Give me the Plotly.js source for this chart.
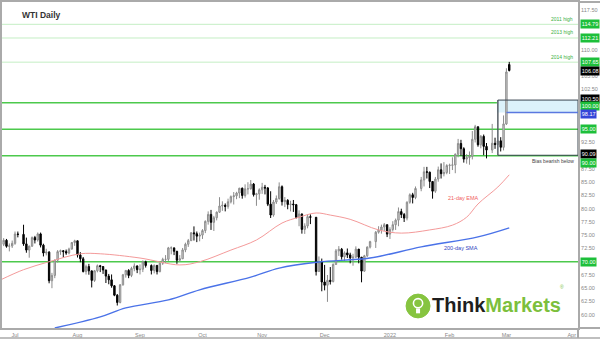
<!DOCTYPE html>
<html><head><meta charset="utf-8">
<script src="https://cdn.plot.ly/plotly-3.0.1.min.js"></script>
<style>html,body{margin:0;padding:0;background:#fff}#chart{width:600px;height:339px}</style>
</head><body><div id="chart"></div>
<script>
// ---- data ----
const dates = [
"2021-06-24","2021-06-25","2021-06-28","2021-06-29","2021-06-30",
"2021-07-01","2021-07-02","2021-07-06","2021-07-07","2021-07-08","2021-07-09","2021-07-12","2021-07-13","2021-07-14","2021-07-15","2021-07-16","2021-07-19","2021-07-20","2021-07-21","2021-07-22","2021-07-23","2021-07-26","2021-07-27","2021-07-28","2021-07-29","2021-07-30",
"2021-08-02","2021-08-03","2021-08-04","2021-08-05","2021-08-06","2021-08-09","2021-08-10","2021-08-11","2021-08-12","2021-08-13","2021-08-16","2021-08-17","2021-08-18","2021-08-19","2021-08-20","2021-08-23","2021-08-24","2021-08-25","2021-08-26","2021-08-27","2021-08-30","2021-08-31",
"2021-09-01","2021-09-02","2021-09-03","2021-09-07","2021-09-08","2021-09-09","2021-09-10","2021-09-13","2021-09-14","2021-09-15","2021-09-16","2021-09-17","2021-09-20","2021-09-21","2021-09-22","2021-09-23","2021-09-24","2021-09-27","2021-09-28","2021-09-29","2021-09-30",
"2021-10-01","2021-10-04","2021-10-05","2021-10-06","2021-10-07","2021-10-08","2021-10-11","2021-10-12","2021-10-13","2021-10-14","2021-10-15","2021-10-18","2021-10-19","2021-10-20","2021-10-21","2021-10-22","2021-10-25","2021-10-26","2021-10-27","2021-10-28","2021-10-29",
"2021-11-01","2021-11-02","2021-11-03","2021-11-04","2021-11-05","2021-11-08","2021-11-09","2021-11-10","2021-11-11","2021-11-12","2021-11-15","2021-11-16","2021-11-17","2021-11-18","2021-11-19","2021-11-22","2021-11-23","2021-11-24","2021-11-26","2021-11-29","2021-11-30",
"2021-12-01","2021-12-02","2021-12-03","2021-12-06","2021-12-07","2021-12-08","2021-12-09","2021-12-10","2021-12-13","2021-12-14","2021-12-15","2021-12-16","2021-12-17","2021-12-20","2021-12-21","2021-12-22","2021-12-23","2021-12-27","2021-12-28","2021-12-29","2021-12-30","2021-12-31",
"2022-01-03","2022-01-04","2022-01-05","2022-01-06","2022-01-07","2022-01-10","2022-01-11","2022-01-12","2022-01-13","2022-01-14","2022-01-18","2022-01-19","2022-01-20","2022-01-21","2022-01-24","2022-01-25","2022-01-26","2022-01-27","2022-01-28","2022-01-31",
"2022-02-01","2022-02-02","2022-02-03","2022-02-04","2022-02-07","2022-02-08","2022-02-09","2022-02-10","2022-02-11","2022-02-14","2022-02-15","2022-02-16","2022-02-17","2022-02-18","2022-02-22","2022-02-23","2022-02-24","2022-02-25","2022-02-28",
"2022-03-01","2022-03-02"];
const opens = [
73.08,73.30,74.05,72.91,72.98,
73.47,75.23,75.16,73.37,72.20,72.94,74.56,74.10,75.25,73.13,71.65,71.81,66.42,67.42,70.30,71.91,72.07,71.91,71.65,72.39,73.62,
73.95,71.26,70.56,68.15,69.09,68.28,66.48,68.29,69.25,69.09,68.44,67.29,66.59,65.46,63.69,62.32,65.64,67.54,68.36,67.42,68.74,69.21,
68.50,68.59,69.99,69.29,68.35,69.30,68.14,69.72,70.45,70.46,72.61,72.61,71.97,70.29,70.56,72.23,73.30,73.98,75.45,75.29,74.83,
75.03,75.88,77.62,78.93,77.43,78.30,79.35,80.52,80.64,80.44,81.31,82.28,82.44,82.96,83.87,82.50,83.76,83.76,84.65,82.66,82.81,
83.57,84.05,83.91,80.86,78.81,81.27,81.93,84.15,81.34,81.59,80.79,80.88,80.76,78.36,79.01,76.10,76.75,78.50,78.39,68.15,69.95,
66.18,65.57,66.50,66.26,69.49,72.05,72.36,70.94,71.67,71.29,70.73,70.87,72.38,70.86,68.23,71.12,72.76,73.79,75.57,75.98,76.56,76.99,
75.21,76.08,76.99,77.85,79.46,78.90,78.23,81.22,82.64,82.12,83.82,85.43,86.96,86.90,85.14,83.31,85.60,87.35,86.61,86.82,
88.15,88.20,88.26,90.27,92.31,91.32,89.36,89.66,89.88,93.10,95.46,92.07,93.66,91.76,91.07,92.35,92.10,92.81,91.59,
96.00,107.20];
const highs = [
73.49,74.45,74.30,73.45,74.00,
75.70,75.70,76.98,74.55,73.05,74.77,74.88,75.52,75.50,73.40,72.45,72.00,67.90,70.40,72.20,72.30,72.20,72.30,72.65,73.73,74.15,
74.00,71.80,70.90,69.45,69.60,68.30,68.45,69.48,69.40,69.15,68.50,67.70,67.60,65.60,63.90,65.80,67.70,68.43,68.60,69.05,69.70,69.30,
69.50,70.25,70.20,69.50,69.50,69.40,69.85,70.75,71.25,72.80,72.90,72.70,72.05,71.25,72.60,73.60,74.30,75.60,76.67,75.70,75.50,
76.15,77.80,79.50,79.78,78.65,79.48,82.18,81.40,81.00,81.90,82.50,83.15,83.20,83.95,84.00,84.60,85.00,85.41,84.85,83.00,83.85,
84.88,84.50,84.10,83.30,81.65,82.50,84.97,84.40,82.20,81.80,81.50,81.65,80.90,79.70,79.10,77.25,78.95,78.95,78.40,71.00,70.60,
69.40,67.50,69.00,69.70,72.40,72.95,72.60,71.95,72.50,71.70,71.50,72.90,72.40,70.90,71.30,72.90,73.95,75.80,76.70,77.00,77.30,77.00,
76.50,77.65,78.15,80.24,80.00,79.20,81.40,82.90,83.00,84.20,86.00,87.90,87.90,87.00,85.20,86.00,87.95,88.55,88.80,88.40,
88.50,89.70,90.44,93.17,93.00,91.60,90.30,90.80,94.66,95.82,95.50,93.90,94.00,92.40,96.00,93.40,100.50,93.50,97.60,
106.50,107.70];
const lows = [
72.55,72.95,72.65,71.95,72.60,
73.20,74.60,73.00,71.70,70.76,72.80,73.45,73.80,72.70,71.00,71.20,65.93,65.01,66.90,69.85,71.30,70.80,71.30,71.40,72.30,73.00,
70.80,69.90,67.98,67.58,67.55,65.15,66.20,68.00,68.05,67.70,65.99,65.75,65.10,63.50,61.74,62.15,65.50,67.00,66.90,67.10,68.20,67.85,
67.60,68.05,68.90,67.60,67.80,67.60,68.00,69.40,69.75,70.15,71.40,71.25,69.60,70.00,70.50,71.80,72.80,73.90,74.00,73.70,73.85,
74.30,75.40,77.00,76.00,75.80,77.80,79.20,79.60,79.50,80.00,81.00,80.80,81.80,82.00,81.90,82.10,82.70,83.60,82.30,80.55,81.70,
82.80,82.70,80.50,78.25,78.50,80.90,81.70,80.60,80.30,79.90,79.50,79.40,78.15,76.70,75.30,75.25,76.30,77.10,67.40,68.10,64.43,
64.60,62.43,65.70,66.10,69.40,71.10,70.40,70.10,70.70,69.70,69.25,70.70,69.70,66.12,68.10,70.90,72.50,72.60,75.30,75.30,75.80,74.65,
74.30,75.70,76.00,76.70,78.25,77.50,77.80,80.95,81.00,81.80,83.30,84.20,85.70,83.90,81.90,83.00,85.10,85.70,86.10,86.50,
86.55,87.30,86.70,89.70,90.00,88.70,88.50,88.30,89.30,92.50,91.70,91.40,90.10,89.50,90.50,91.30,90.09,90.80,91.00,
95.80,105.90];
const closes = [
73.30,74.05,72.91,72.98,73.47,
75.23,75.16,73.37,72.20,72.94,74.56,74.10,75.25,73.13,71.65,71.81,66.42,67.42,70.30,71.91,72.07,71.91,71.65,72.39,73.62,73.95,
71.26,70.56,68.15,69.09,68.28,66.48,68.29,69.25,69.09,68.44,67.29,66.59,65.46,63.69,62.32,65.64,67.54,68.36,67.42,68.74,69.21,68.50,
68.59,69.99,69.29,68.35,69.30,68.14,69.72,70.45,70.46,72.61,72.61,71.97,70.29,70.56,72.23,73.30,73.98,75.45,75.29,74.83,75.03,
75.88,77.62,78.93,77.43,78.30,79.35,80.52,80.64,80.44,81.31,82.28,82.44,82.96,83.87,82.50,83.76,83.76,84.65,82.66,82.81,83.57,
84.05,83.91,80.86,78.81,81.27,81.93,84.15,81.34,81.59,80.79,80.88,80.76,78.36,79.01,76.10,76.75,78.50,78.39,68.15,69.95,66.18,
65.57,66.50,66.26,69.49,72.05,72.36,70.94,71.67,71.29,70.73,70.87,72.38,70.86,68.23,71.12,72.76,73.79,75.57,75.98,76.56,76.99,75.21,
76.08,76.99,77.85,79.46,78.90,78.23,81.22,82.64,82.12,83.82,85.43,86.96,86.90,85.14,83.31,85.60,87.35,86.61,86.82,88.15,
88.20,88.26,90.27,92.31,91.32,89.36,89.66,89.88,93.10,95.46,92.07,93.66,91.76,91.07,92.35,92.10,92.81,91.59,96.00,
105.80,106.08];

const emaDates  = ["2021-06-24","2021-07-06","2021-07-19","2021-08-03","2021-08-12","2021-09-01","2021-09-21","2021-09-30","2021-10-15","2021-10-28","2021-11-10","2021-11-18","2021-11-26","2021-12-03","2021-12-14","2021-12-28","2022-01-07","2022-01-21","2022-02-02","2022-02-09","2022-02-15","2022-02-24","2022-03-02"];
const emaValues = [66.6,68.5,70.0,71.5,71.5,70.7,69.4,70.0,72.2,74.1,77.3,78.4,79.2,78.8,78.0,76.0,75.4,76.0,76.9,78.4,80.9,84.1,86.4];
const smaDates  = ["2021-07-21","2021-08-12","2021-08-25","2021-09-15","2021-09-30","2021-10-26","2021-11-09","2021-11-29","2021-12-23","2022-01-18","2022-02-15","2022-03-02"];
const smaValues = [57.5,59.6,61.3,62.8,64.7,67.1,68.8,69.95,70.7,72.8,74.7,76.4];

const keyLevels = [100, 95, 90, 70];
const historicHighs = [114.79, 112.21, 107.65];
const historicLabels = ["2011 high", "2013 high", "2014 high"];
const yTicks = [60,62.5,65,67.5,72.5,75,77.5,80,82.5,85,87.5,92.5,102.5,105,110,117.5];
const monthTicks = ["2021-07-01","2021-08-02","2021-09-01","2021-10-01","2021-11-01","2021-12-01","2022-01-03","2022-02-01","2022-03-01","2022-04-01"];
const monthLabels = ["Jul","Aug","Sep","Oct","Nov","Dec","2022","Feb","Mar","Apr"];
const lastPrice = 106.08;
const boxTop = 100.50, boxMid = 98.17, biasLevel = 90.09;
const boxStart = "2022-02-24", boxEnd = "2022-04-05 05:00";

// ---- chart ----
const GREEN = '#4cc94c', LIGHTGREEN = '#c4eec4';
const traces = [
  {type:'scatter', mode:'lines', x:emaDates, y:emaValues, line:{color:'#f49a9a', width:1, shape:'spline'}, hoverinfo:'skip', showlegend:false},
  {type:'scatter', mode:'lines', x:smaDates, y:smaValues, line:{color:'#4a72e8', width:1.4, shape:'spline'}, hoverinfo:'skip', showlegend:false},
  {type:'candlestick', x:dates, open:opens, high:highs, low:lows, close:closes,
   increasing:{line:{color:'#8c8c8c', width:1}, fillcolor:'#d6d6d6'},
   decreasing:{line:{color:'#000000', width:1}, fillcolor:'#000000'},
   whiskerwidth:0, hoverinfo:'skip', showlegend:false}
];

const shapes = [];
shapes.push({type:'rect', xref:'x', yref:'y', x0:"2022-02-23 16:00", x1:boxEnd, y0:boxMid, y1:boxTop, fillcolor:'#dcf2fb', line:{width:0}, layer:'below'});
historicHighs.forEach(v => shapes.push({type:'line', xref:'paper', yref:'y', x0:0, x1:1, y0:v, y1:v, line:{color:LIGHTGREEN, width:1}, layer:'below'}));
keyLevels.forEach(v => shapes.push({type:'line', xref:'paper', yref:'y', x0:0, x1:1, y0:v, y1:v, line:{color:GREEN, width:1.4}, layer:'below'}));
shapes.push({type:'rect', xref:'x', yref:'y', x0:boxStart, x1:boxEnd, y0:biasLevel, y1:boxTop, line:{color:'#3a4650', width:1}, fillcolor:'rgba(0,0,0,0)'});
shapes.push({type:'line', xref:'x', yref:'y', x0:"2022-03-01", x1:boxEnd, y0:boxMid, y1:boxMid, line:{color:'#5a78e0', width:1.5}});
// outer frame pieces
shapes.push({type:'line', xref:'paper', yref:'paper', x0:-0.004, x1:1.04, y0:-0.031, y1:-0.031, line:{color:'#aaaaaa', width:1.5}});
shapes.push({type:'line', xref:'paper', yref:'paper', x0:1, x1:1.04, y0:0, y1:0, line:{color:'#aaaaaa', width:2}});
shapes.push({type:'line', xref:'paper', yref:'paper', x0:1, x1:1.04, y0:1, y1:1, line:{color:'#aaaaaa', width:2}});
shapes.push({type:'line', xref:'paper', yref:'paper', x0:1, x1:1, y0:-0.031, y1:0, line:{color:'#aaaaaa', width:2}});
// logo
shapes.push({type:'circle', xref:'paper', yref:'paper', x0:0.7015, x1:0.7431, y0:0.031, y1:0.104, fillcolor:'#86c440', line:{color:'#86c440', width:1}});
shapes.push({type:'circle', xref:'paper', yref:'paper', x0:0.7143, x1:0.7303, y0:0.062, y1:0.090, fillcolor:'rgba(0,0,0,0)', line:{color:'#ffffff', width:1.6}});
shapes.push({type:'rect', xref:'paper', yref:'paper', x0:0.7188, x1:0.7258, y0:0.045, y1:0.060, fillcolor:'#ffffff', line:{width:0}});

const annotations = [];
function boxLabel(v, txt, bg, ys){
  annotations.push({xref:'paper', yref:'y', x:1, y:v, xanchor:'left', yanchor:'middle', xshift:2, yshift:ys||0,
    text:txt, showarrow:false, bgcolor:bg, borderpad:0.8, font:{family:'Liberation Sans, Arial', size:5.5, color:'#ffffff'}});
}
historicHighs.forEach((v,i) => {
  boxLabel(v, v.toFixed(2), '#1dbf3a', 0);
  annotations.push({xref:'paper', yref:'y', x:0.995, y:v, xanchor:'right', yanchor:'bottom', yshift:0.5,
    text:historicLabels[i], showarrow:false, font:{family:'Liberation Sans, Arial', size:5, color:'#3cb043'}});
});
boxLabel(lastPrice, lastPrice.toFixed(2), '#000000', -1);
boxLabel(boxTop, boxTop.toFixed(2), '#000000', 1);
boxLabel(keyLevels[0], keyLevels[0].toFixed(2), '#1dbf3a', -3);
boxLabel(boxMid, boxMid.toFixed(2), '#3346d8', -1.5);
boxLabel(keyLevels[1], keyLevels[1].toFixed(2), '#1dbf3a', 0);
boxLabel(biasLevel, biasLevel.toFixed(2), '#000000', 1);
boxLabel(keyLevels[2], keyLevels[2].toFixed(2), '#1dbf3a', -7);
boxLabel(keyLevels[3], keyLevels[3].toFixed(2), '#1dbf3a', 0);

annotations.push({xref:'paper', yref:'paper', x:0.031, y:0.96, xanchor:'left', yanchor:'middle', showarrow:false,
  text:'<b>WTI Daily</b>', font:{family:'Liberation Sans, Arial', size:8.5, color:'#333333'}});
annotations.push({xref:'paper', yref:'y', x:0.996, y:biasLevel, xanchor:'right', yanchor:'top', yshift:-0.5, showarrow:false,
  text:'Bias bearish below', font:{family:'Liberation Sans, Arial', size:5, color:'#444444'}});
annotations.push({xref:'x', yref:'y', x:"2022-02-08", y:82.1, xanchor:'center', yanchor:'middle', showarrow:false,
  text:'21-day EMA', font:{family:'Liberation Sans, Arial', size:5.5, color:'#f06060'}});
annotations.push({xref:'x', yref:'y', x:"2022-02-07", y:72.5, xanchor:'center', yanchor:'middle', showarrow:false,
  text:'200-day SMA', font:{family:'Liberation Sans, Arial', size:5.5, color:'#2f3fc0'}});
annotations.push({xref:'paper', yref:'paper', x:0.743, y:0.072, xanchor:'left', yanchor:'middle', showarrow:false,
  text:"<b><span style='color:#1e1e1e'>Think</span><span style='color:#7cbf3c'>Markets</span></b>",
  font:{family:'Liberation Sans, Arial', size:20}});
annotations.push({xref:'paper', yref:'paper', x:0.966, y:0.125, xanchor:'left', yanchor:'middle', showarrow:false,
  text:'®', font:{family:'Liberation Sans, Arial', size:5, color:'#7cbf3c'}});

const layout = {
  width:600, height:339,
  margin:{l:2, r:22, t:2, b:11, pad:0},
  paper_bgcolor:'#ffffff', plot_bgcolor:'#ffffff',
  showlegend:false,
  xaxis:{type:'date', range:["2021-06-24 10:00", boxEnd], rangebreaks:[{bounds:['sat','mon']}],
    rangeslider:{visible:false}, showgrid:false, zeroline:false,
    tickvals:monthTicks, ticktext:monthLabels, ticks:'',
    tickfont:{family:'Liberation Sans, Arial', size:5.5, color:'#888888'},
    showline:true, linecolor:'#aaaaaa', linewidth:2, mirror:true, fixedrange:true},
  yaxis:{side:'right', range:[57.5, 119], showgrid:false, zeroline:false,
    tickvals:yTicks, tickformat:'.2f', ticks:'',
    tickfont:{family:'Liberation Sans, Arial', size:5.5, color:'#888888'},
    showline:true, linecolor:'#aaaaaa', linewidth:2, mirror:true, fixedrange:true},
  shapes:shapes, annotations:annotations
};
Plotly.newPlot('chart', traces, layout, {displayModeBar:false, staticPlot:true});
</script></body></html>
